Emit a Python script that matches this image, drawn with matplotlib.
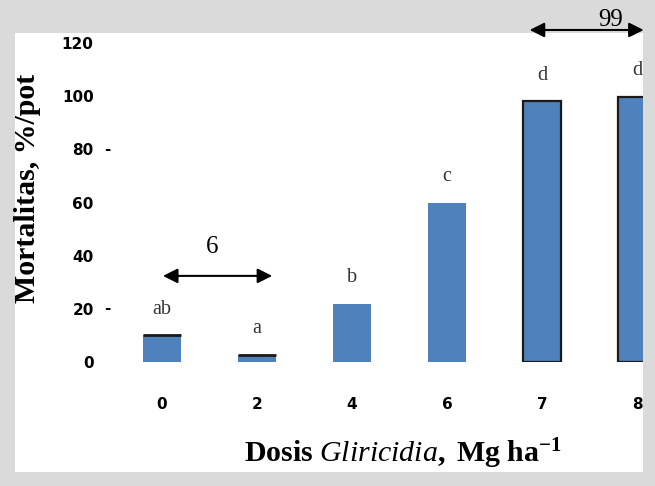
import numpy as np
import matplotlib
matplotlib.use("Agg")
import matplotlib.pyplot as plt
import matplotlib.transforms as mtransforms
from matplotlib.patches import Rectangle

# 데이터
doses = ["0", "2", "4", "6", "7", "8"]
mortality = [10, 2.5, 22, 60, 98, 99.7]
letters = ["ab", "a", "b", "c", "d", "d"]
edged = [False, False, False, False, True, True]
top_line = [True, True, False, False, False, False]
yticks = [0, 20, 40, 60, 80, 100, 120]
dash_ticks = [20, 80]

# 주석 (화살표)
arrow_low = {"label": "6", "x0": 0.01, "x1": 1.16, "y": 32.4, "tx": 0.53, "ty": 43.3}
arrow_high = {"label": "99", "x0": 3.87, "x1": 5.07, "y": 124.9, "tx": 4.72, "ty": 128.7}

plt.rcParams["mathtext.fontset"] = "custom"
plt.rcParams["mathtext.rm"] = "Liberation Serif"
plt.rcParams["mathtext.bf"] = "Liberation Serif:bold"
plt.rcParams["mathtext.it"] = "Liberation Serif:italic"

fig = plt.figure(figsize=(6.55, 4.86), dpi=100, facecolor="#dadada")
# 흰 배경 영역
fig.patches.append(Rectangle((15 / 655, 1 - 472 / 486), 628 / 655, 439 / 486,
                             transform=fig.transFigure, facecolor="white",
                             edgecolor="none", zorder=-10))

ax = fig.add_axes([0.1748, 0.2551, 0.8069, 0.6564])
ax.set_zorder(5)
ax.set_facecolor("none")
x = np.arange(len(doses))

bars = ax.bar(x, mortality, width=0.4, color="#4f81bd", zorder=2)
for b, e in zip(bars, edged):
    if e:
        b.set_edgecolor("#1a1a1a")
        b.set_linewidth(1.6)
for xi, h, t in zip(x, mortality, top_line):
    if t:
        ax.plot([xi - 0.2, xi + 0.2], [h, h], color="#1a1a1a", lw=2, zorder=3,
                solid_capstyle="butt")

for xi, h, lab in zip(x, mortality, letters):
    ax.annotate(lab, (xi, h), xytext=(0, 19), textcoords="offset points",
                ha="center", va="center", fontsize=14.5, color="#333333",
                family="Liberation Serif", annotation_clip=False)

for a in (arrow_low, arrow_high):
    ax.annotate("", xy=(a["x0"], a["y"]), xytext=(a["x1"], a["y"]),
                arrowprops=dict(arrowstyle="<|-|>", color="black", lw=1.5,
                                mutation_scale=22, shrinkA=0, shrinkB=0),
                annotation_clip=False)
    ax.text(a["tx"], a["ty"], a["label"], ha="center", va="center", fontsize=18,
            family="Liberation Serif", clip_on=False)

ax.set_xlim(-0.5, 5.063)
ax.set_ylim(0, 120)
ax.set_xticks(x)
ax.set_xticklabels(doses)
ax.set_yticks(yticks)
ax.tick_params(length=0, labelsize=11)
ax.tick_params(axis="y", pad=15)
ax.tick_params(axis="x", pad=25)
for lbl in ax.get_xticklabels() + ax.get_yticklabels():
    lbl.set_fontweight("bold")
for s in ax.spines.values():
    s.set_visible(False)

trans = mtransforms.blended_transform_factory(ax.transAxes, ax.transData)
for v in dash_ticks:
    ax.text(-0.007, v, "-", transform=trans, ha="right", va="center",
            fontsize=11, fontweight="bold")

ax.set_ylabel("Mortalitas, %/pot", fontsize=21.5, fontweight="bold",
              family="Liberation Serif")
ax.yaxis.set_label_coords(-0.14, 0.545)
ax.set_xlabel(r"$\mathbf{Dosis}\ \mathit{Gliricidia}\mathbf{,\ Mg\ ha}^{\mathbf{-1}}$",
              fontsize=21.5)
ax.xaxis.set_label_coords(0.545, -0.235)

plt.savefig("out.png", dpi=100, facecolor=fig.get_facecolor())
